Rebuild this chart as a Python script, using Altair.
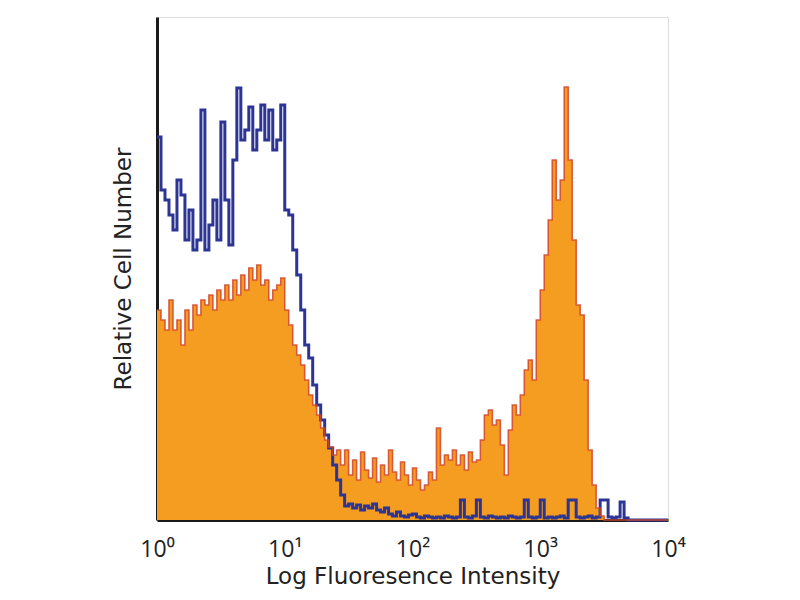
import altair as alt
import pandas as pd

# Histogram heights per channel (128 channels over 4 decades)
blue = [383, 330, 320, 305, 290, 340, 325, 280, 310, 270,
        280, 410, 270, 295, 320, 280, 398, 320, 275, 360,
        432, 380, 390, 413, 370, 390, 415, 380, 410, 370,
        380, 415, 310, 305, 270, 245, 210, 175, 162, 135,
        115, 100, 85, 72, 55, 40, 25, 14, 16, 12,
        15, 10, 14, 12, 16, 10, 8, 12, 6, 4,
        8, 4, 3, 5, 6, 3, 2, 4, 3, 2,
        3, 2, 4, 3, 2, 3, 20, 3, 2, 4,
        20, 3, 2, 4, 3, 2, 3, 2, 4, 3,
        2, 3, 20, 3, 2, 3, 20, 2, 3, 2,
        3, 4, 2, 20, 20, 3, 2, 3, 4, 2,
        3, 20, 20, 3, 2, 3, 18, 2, 0, 0,
        0, 0, 0, 0, 0, 0, 0, 0]

orange = [210, 200, 190, 220, 190, 200, 175, 210, 190, 215,
          205, 220, 215, 225, 210, 230, 220, 235, 220, 240,
          225, 245, 230, 252, 240, 255, 235, 240, 220, 230,
          235, 242, 210, 195, 175, 165, 155, 140, 125, 115,
          105, 92, 80, 73, 65, 70, 55, 70, 45, 60,
          40, 68, 50, 42, 62, 38, 55, 45, 70, 48,
          40, 58, 45, 35, 52, 40, 30, 35, 48, 40,
          92, 55, 65, 60, 70, 55, 65, 50, 68, 58,
          60, 80, 105, 110, 95, 100, 75, 45, 90, 115,
          105, 125, 150, 160, 140, 200, 230, 265, 300, 360,
          320, 340, 433, 360, 280, 215, 205, 140, 70, 35,
          12, 4, 0, 0, 0, 0, 0, 0, 0, 0,
          0, 0, 0, 0, 0, 0, 0, 0]

tick_values = [1, 10, 100, 1000, 10000]
tick_labels = ["10\u2070", "10\u00b9", "10\u00b2", "10\u00b3", "10\u2074"]

n = len(blue)
channels = [10 ** (4 * i / n) for i in range(n + 1)]
df = pd.DataFrame({
    "x": channels,
    "blue": blue + [blue[-1]],
    "orange": orange + [orange[-1]],
})

label_expr = " : ".join(
    f"round(datum.value) == {v} ? '{l}'" for v, l in zip(tick_values, tick_labels)
) + " : ''"

LABEL_FONT = "Open Sans"
TITLE_FONT = "DejaVu Sans"

x_enc = alt.X(
    "x:Q",
    scale=alt.Scale(type="log", domain=[1, 10000], nice=False),
    axis=alt.Axis(
        values=tick_values,
        labelExpr=label_expr,
        ticks=False,
        grid=False,
        domainColor="#1a1a1a",
        domainWidth=3,
        labelFontSize=23,
        labelFont=LABEL_FONT,
        labelColor="#222",
        labelPadding=18,
        labelFlush=False,
        labelOverlap=False,
        title="Log Fluoresence Intensity",
        titleFont=TITLE_FONT,
        titleFontSize=23,
        titleFontWeight="normal",
        titleColor="#222",
        titlePadding=4,
    ),
)

y_scale = alt.Scale(domain=[0, 503], nice=False, zero=True)
y_axis = alt.Axis(
    labels=False,
    ticks=False,
    grid=False,
    domainColor="#1a1a1a",
    domainWidth=3,
    title="Relative Cell Number",
    titleFont=TITLE_FONT,
    titleFontSize=23,
    titleFontWeight="normal",
    titleColor="#222",
    titlePadding=22,
)

base = alt.Chart(df)

area = base.mark_area(interpolate="step-after", color="#f59d20", opacity=1).encode(
    x=x_enc,
    y=alt.Y("orange:Q", scale=y_scale, axis=y_axis),
)

blue_line = base.mark_line(interpolate="step-after", color="#2d3594", strokeWidth=3).encode(
    x=x_enc,
    y=alt.Y("blue:Q", scale=y_scale, axis=y_axis),
)

red_line = base.mark_line(interpolate="step-after", color="#d2472a", strokeWidth=1.6, opacity=0.85).encode(
    x=x_enc,
    y=alt.Y("orange:Q", scale=y_scale, axis=y_axis),
)

chart = alt.layer(area, blue_line, red_line).properties(
    width=511,
    height=503,
    autosize=alt.AutoSizeParams(type="none"),
    padding={"left": 149, "top": 9, "right": 120, "bottom": 70},
).configure_view(
    stroke="#8a8a8a",
    strokeWidth=2,
).configure(background="white")

chart.save("out.html", embed_options={"renderer": "svg", "actions": False})
